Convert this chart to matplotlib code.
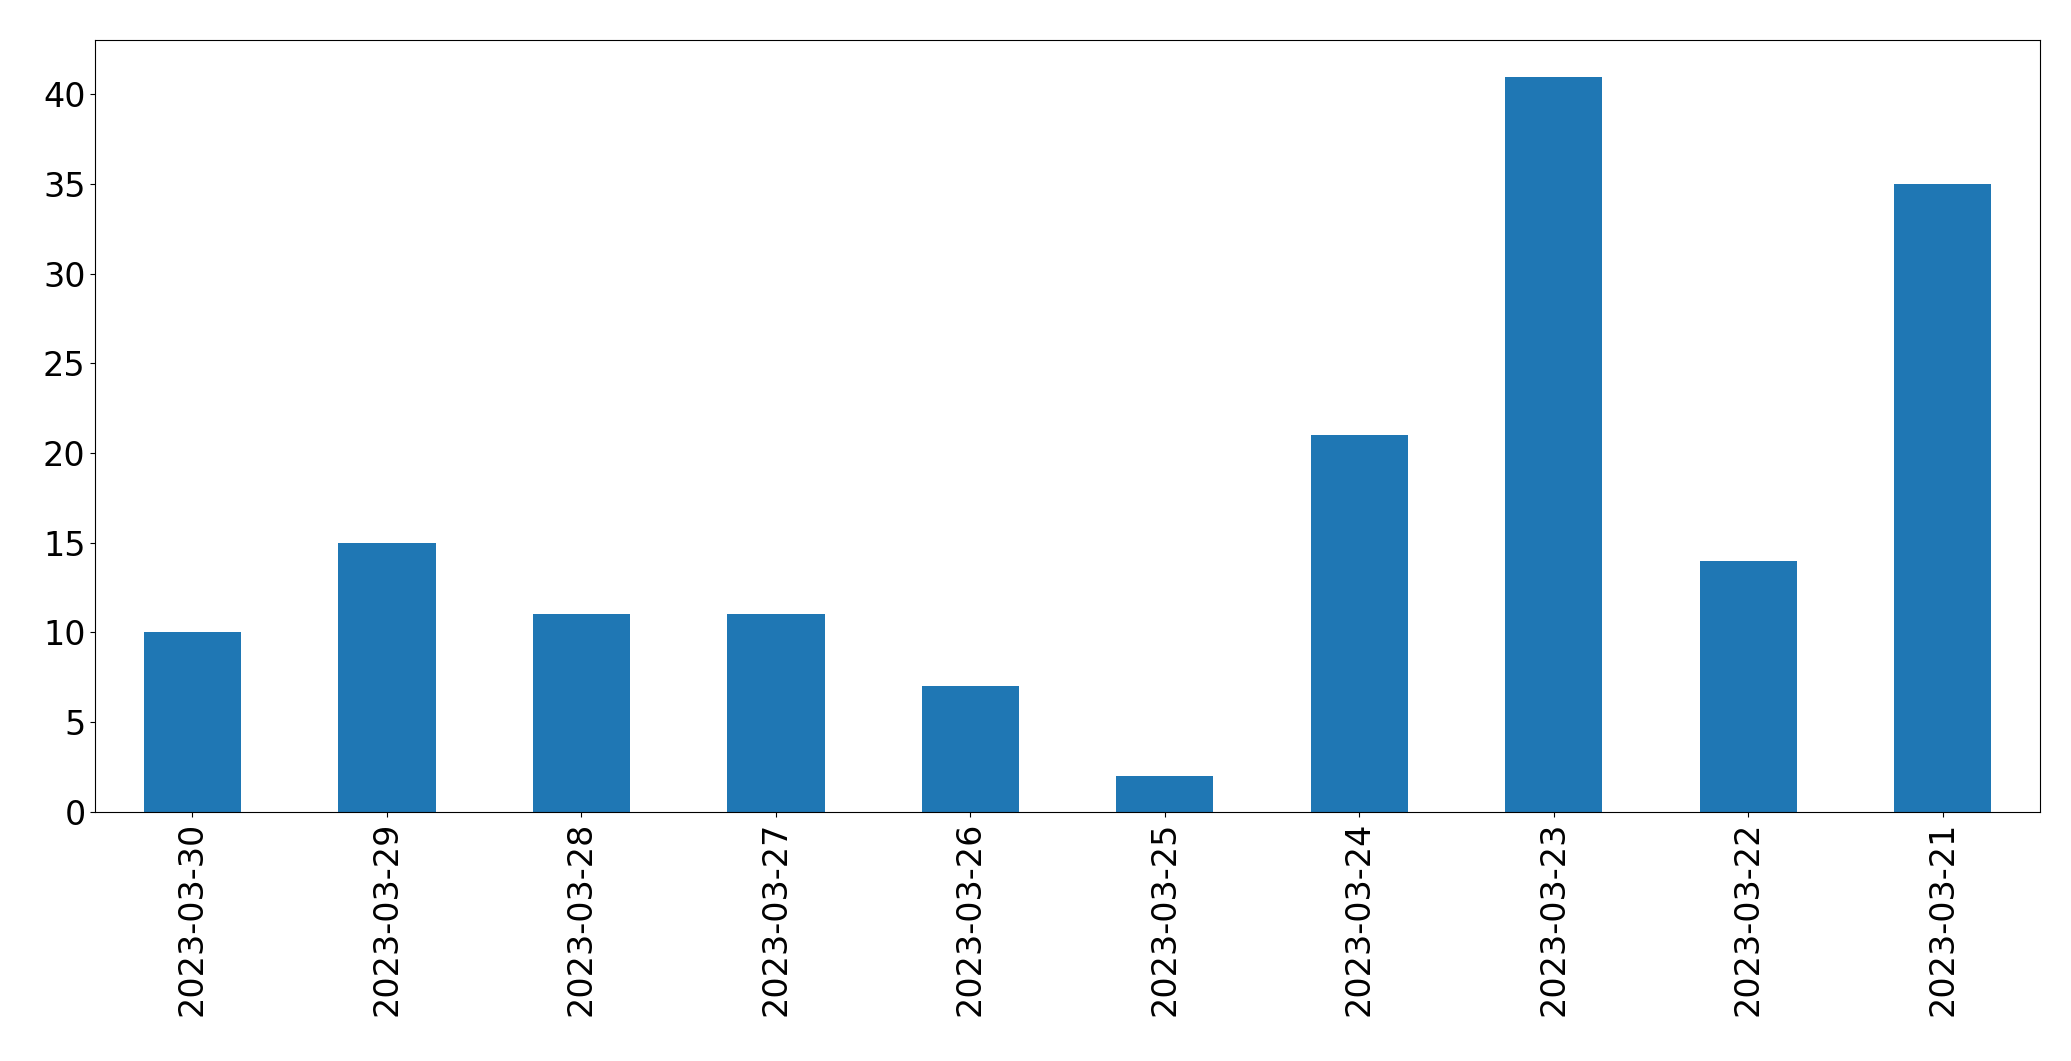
import matplotlib
matplotlib.use("Agg")
import matplotlib.pyplot as plt

dates = ["2023-03-30","2023-03-29","2023-03-28","2023-03-27","2023-03-26",
         "2023-03-25","2023-03-24","2023-03-23","2023-03-22","2023-03-21"]
counts = [10, 15, 11, 11, 7, 2, 21, 41, 14, 35]

fig = plt.figure(figsize=(20.71, 10.61), dpi=100)
ax = fig.add_axes([0.046, 0.235, 0.939, 0.7275])
x = range(len(dates))
ax.bar(x, counts, width=0.5, color="#1f77b4")
ax.set_xlim(-0.5, len(dates) - 0.5)
ax.set_ylim(0, max(counts) * 1.05)
ax.set_xticks(list(x))
ax.set_xticklabels(dates, rotation=90)
ax.tick_params(labelsize=24)
fig.savefig("out.png", dpi=100)
